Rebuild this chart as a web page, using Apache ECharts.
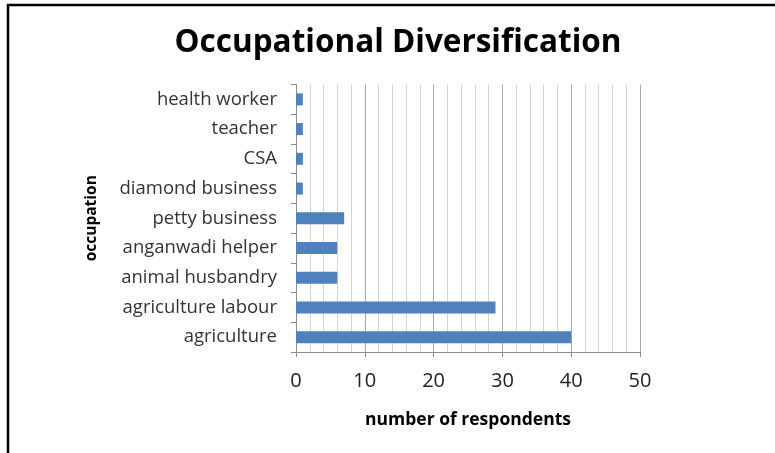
<!DOCTYPE html>
<html>
<head>
<meta charset="utf-8">
<script src="https://cdn.jsdelivr.net/npm/echarts@6/dist/echarts.min.js"></script>
<style>
  html, body { margin: 0; padding: 0; background: #fff; }
  #chart { width: 775px; height: 453px; }
</style>
</head>
<body>
<div id="chart"></div>
<script>
// Occupations, listed from the bottom of the chart upwards
const occupations = [
  'agriculture',
  'agriculture labour',
  'animal husbandry',
  'anganwadi helper',
  'petty business',
  'diamond business',
  'CSA',
  'teacher',
  'health worker'
];
// Respondents per occupation
const respondents = [40, 29, 6, 6, 7, 1, 1, 1, 1];
// Value axis settings
const xMin = 0;
const xMax = 50;
const xStep = 10;

const chart = echarts.init(document.getElementById('chart'), null, { renderer: 'canvas' });
const fontFamily = '"Open Sans", "Noto Sans", sans-serif';

chart.setOption({
  animation: false,
  backgroundColor: '#ffffff',
  graphic: [
    {
      type: 'rect',
      shape: { x: 8, y: 5, width: 800, height: 500 },
      style: { fill: 'none', stroke: '#000000', lineWidth: 2.5 },
      silent: true
    },
    {
      type: 'text',
      x: 398,
      y: 43,
      style: {
        text: 'Occupational Diversification',
        fill: '#000000',
        font: 'bold 31.5px ' + fontFamily,
        textAlign: 'center',
        textVerticalAlign: 'middle'
      },
      silent: true
    }
  ],
  grid: {
    left: 296,
    right: 135,
    top: 84.5,
    bottom: 101,
    containLabel: false
  },
  xAxis: {
    type: 'value',
    min: xMin,
    max: xMax,
    interval: xStep,
    name: 'number of respondents',
    nameLocation: 'middle',
    nameGap: 59,
    nameTextStyle: {
      fontFamily: fontFamily,
      fontWeight: 'bold',
      fontSize: 17.5,
      color: '#000000'
    },
    axisLine: { show: true, lineStyle: { color: '#8c8c8c', width: 1 } },
    axisTick: { show: true, length: 5, lineStyle: { color: '#8c8c8c' } },
    axisLabel: {
      fontFamily: fontFamily,
      fontSize: 20,
      color: '#222222',
      margin: 19
    },
    splitLine: { show: true, lineStyle: { color: '#a8a8a8', width: 1 } },
    minorTick: { show: false, splitNumber: 5 },
    minorSplitLine: { show: true, lineStyle: { color: '#d4d4d4', width: 1 } }
  },
  yAxis: {
    type: 'category',
    data: occupations,
    name: 'occupation',
    nameLocation: 'middle',
    nameGap: 196,
    nameRotate: 90,
    nameTextStyle: {
      fontFamily: fontFamily,
      fontWeight: 'bold',
      fontSize: 15.5,
      color: '#000000'
    },
    axisLine: { show: true, lineStyle: { color: '#8c8c8c', width: 1 } },
    axisTick: { show: true, length: 5, inside: false, alignWithLabel: false, lineStyle: { color: '#8c8c8c' } },
    axisLabel: {
      fontFamily: fontFamily,
      fontSize: 18.5,
      color: '#333333',
      margin: 19
    },
    splitLine: { show: false }
  },
  series: [
    {
      type: 'bar',
      data: respondents,
      barWidth: 12,
      itemStyle: { color: '#4f81bd' }
    }
  ]
});
</script>
</body>
</html>
